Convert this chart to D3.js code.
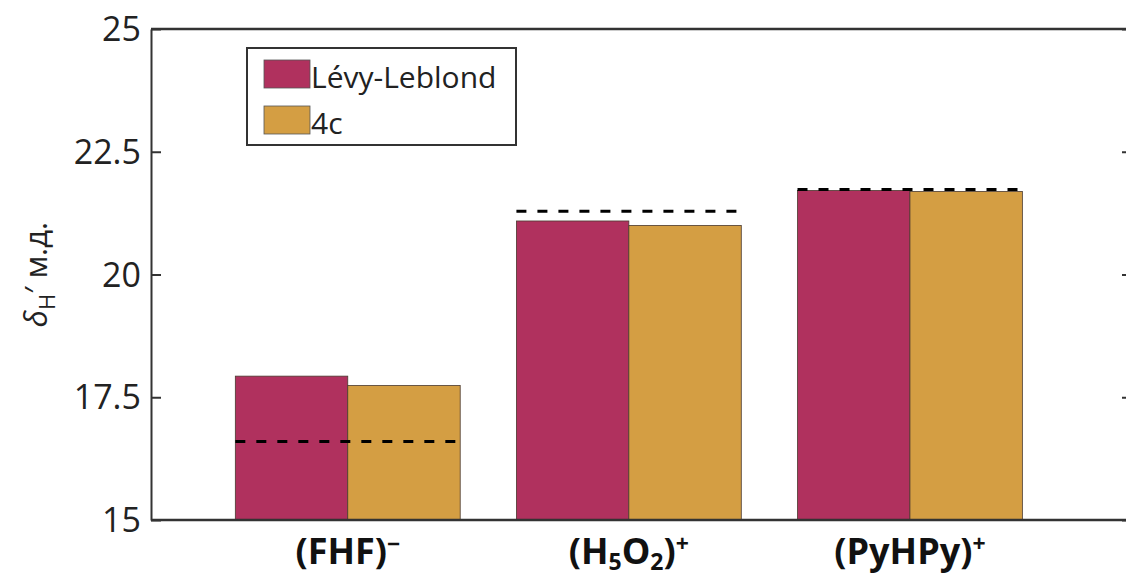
<!DOCTYPE html>
<html>
<head>
<meta charset="utf-8">
<script src="https://cdn.jsdelivr.net/npm/d3@7"></script>
<style>
  body { margin: 0; background: #fff; overflow: hidden; }
  svg text { font-family: "Open Sans", sans-serif; fill: #222; }
</style>
</head>
<body>
<div id="viz"></div>
<script>

// data
var categories = ["(FHF)^\u2212", "(H_5O_2)^+", "(PyHPy)^+"];
var seriesNames = ["L\u00e9vy-Leblond", "4c"];
var levyLeblond = [17.93, 21.09, 21.71];
var fourC = [17.74, 21.0, 21.69];
var reference = [16.6, 21.29, 21.73];
var yTicks = [15, 17.5, 20, 22.5, 25];
var yTickLabels = ["15", "17.5", "20", "22.5", "25"];

var _colors = ["#b0315e", "#d49e43"];

var svg = d3.select("#viz")
    .append("svg")
    .attr("width", 1126)
    .attr("height", 578)
    .style("display", "block");

var _left = 151, _right = 1132, _top = 29, _bottom = 520;

var x = d3.scaleLinear().domain([0.3, 3.79]).range([_left, _right]);
var y = d3.scaleLinear().domain([15, 25]).range([_bottom, _top]);

var barW = x(0.4) - x(0);
var series = [levyLeblond, fourC];

// bars
series.forEach(function(vals, s){
    svg.append("g").selectAll("rect")
        .data(vals)
        .enter()
        .append("rect")
        .attr("x", function(d, i){ return x(i + 1) - barW + s * barW; })
        .attr("y", function(d){ return y(d); })
        .attr("width", barW)
        .attr("height", function(d){ return y(15) - y(d); })
        .style("fill", _colors[s])
        .style("stroke", "#4a3a30")
        .style("stroke-width", 0.8);
});

// dashed reference lines
svg.append("g").selectAll("line")
    .data(reference)
    .enter()
    .append("line")
    .attr("x1", function(d, i){ return x(i + 1) - barW; })
    .attr("x2", function(d, i){ return x(i + 1) + barW; })
    .attr("y1", function(d){ return y(d); })
    .attr("y2", function(d){ return y(d); })
    .style("stroke", "#000")
    .style("stroke-width", 3)
    .style("stroke-dasharray", "10,11");

// axes box
var axL = d3.axisRight(y).tickValues(yTicks).tickSize(10).tickSizeOuter(0).tickFormat("");
svg.append("g").attr("transform", "translate(" + _left + ",0)").call(axL)
    .call(function(g){ g.selectAll("line,path").style("stroke", "#333").style("stroke-width", 2); });
var axR = d3.axisLeft(y).tickValues(yTicks).tickSize(10).tickSizeOuter(0).tickFormat("");
svg.append("g").attr("transform", "translate(" + _right + ",0)").call(axR)
    .call(function(g){
        g.select(".domain").remove();
        g.selectAll("line").style("stroke", "#333").style("stroke-width", 2);
    });
svg.append("line").attr("x1", _left).attr("x2", _right).attr("y1", y(25)).attr("y2", y(25))
    .style("stroke", "#333").style("stroke-width", 2.5);
svg.append("line").attr("x1", _left).attr("x2", _right).attr("y1", y(15)).attr("y2", y(15))
    .style("stroke", "#333").style("stroke-width", 2.5);

// y tick labels
svg.append("g").selectAll("text")
    .data(yTicks)
    .enter()
    .append("text")
    .attr("x", 141)
    .attr("y", function(d){ return y(d) + 12; })
    .attr("text-anchor", "end")
    .style("font-size", "34px")
    .text(function(d, i){ return yTickLabels[i]; });

// y label
var yl = svg.append("text")
    .attr("transform", "translate(47," + y(20) + ") rotate(-90)")
    .attr("text-anchor", "middle")
    .style("font-size", "31px");
yl.append("tspan").style("font-style", "italic").text("\u03b4");
yl.append("tspan").attr("dy", 8).style("font-size", "22px").text("H");
yl.append("tspan").attr("dy", -8).text("\u2032 \u043c.\u0434.");

// category labels, _x = subscript, ^x = superscript
function label(t, s){
    var parts = s.match(/[_^].|[^_^]+/g);
    var shift = 0;
    parts.forEach(function(p){
        if (p[0] == "_" || p[0] == "^") {
            var dy = p[0] == "_" ? 6 : -12;
            t.append("tspan").attr("dy", dy - shift).style("font-size", "23px").text(p[1]);
            shift = dy;
        } else {
            t.append("tspan").attr("dy", -shift).text(p);
            shift = 0;
        }
    });
}

svg.append("g").selectAll("text")
    .data(categories)
    .enter()
    .append("text")
    .attr("x", function(d, i){ return x(i + 1); })
    .attr("y", 564)
    .attr("text-anchor", "middle")
    .style("font-size", "36px")
    .style("font-weight", "bold")
    .style("fill", "#111")
    .each(function(d){ label(d3.select(this), d); });

// legend
var lg = svg.append("g");
lg.append("rect")
    .attr("x", 247).attr("y", 48).attr("width", 269).attr("height", 97)
    .style("fill", "#fff").style("stroke", "#333").style("stroke-width", 2);
seriesNames.forEach(function(n, i){
    lg.append("rect")
        .attr("x", 264).attr("y", 60 + i * 46).attr("width", 46).attr("height", 28)
        .style("fill", _colors[i]).style("stroke", "#555").style("stroke-width", 0.8);
    lg.append("text")
        .attr("x", 311).attr("y", 88 + i * 46)
        .style("font-size", "30px")
        .text(n);
});

</script>
</body>
</html>
